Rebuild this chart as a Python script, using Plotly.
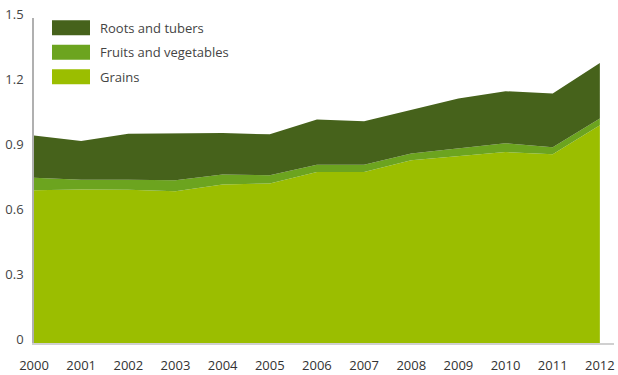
import plotly.graph_objects as go

years = [2000, 2001, 2002, 2003, 2004, 2005, 2006, 2007, 2008, 2009, 2010, 2011, 2012]
grains = [0.705, 0.708, 0.707, 0.700, 0.732, 0.736, 0.789, 0.789, 0.843, 0.862, 0.881, 0.871, 1.005]
fruits_veg = [0.058, 0.046, 0.047, 0.051, 0.046, 0.038, 0.034, 0.034, 0.032, 0.036, 0.041, 0.033, 0.031]
roots_tubers = [0.195, 0.178, 0.212, 0.215, 0.191, 0.189, 0.208, 0.200, 0.199, 0.230, 0.240, 0.247, 0.256]

y_ticks = [0, 0.3, 0.6, 0.9, 1.2, 1.5]
y_labels = ["0", "0.3", "0.6", "0.9", "1.2", "1.5"]

series = [
    ("Grains", grains, "#9bbe00"),
    ("Fruits and vegetables", fruits_veg, "#6ca41f"),
    ("Roots and tubers", roots_tubers, "#46621b"),
]

fig = go.Figure()
for name, vals, col in series:
    fig.add_trace(go.Scatter(
        x=years, y=vals, name=name, mode="lines",
        stackgroup="one", showlegend=False,
        line=dict(width=0, color=col), fillcolor=col,
    ))

# legend drawn by hand: big rectangular swatches, top entry first
for i, (name, vals, col) in enumerate(reversed(series)):
    top = -2.3 - i * 24.5
    fig.add_shape(
        type="rect", xref="paper", yref="paper",
        xsizemode="pixel", ysizemode="pixel", xanchor=0, yanchor=1,
        x0=18, x1=56, y0=top, y1=top - 15,
        fillcolor=col, line=dict(width=0),
    )
    fig.add_annotation(
        text=name, xref="paper", yref="paper", x=0, y=1,
        xanchor="left", yanchor="middle", xshift=64, yshift=top - 7.5,
        showarrow=False, font=dict(size=13, color="#444"),
    )

fig.update_layout(
    width=618, height=375,
    margin=dict(l=34, r=4, t=18, b=32),
    paper_bgcolor="white", plot_bgcolor="white",
    font=dict(family="Open Sans, Noto Sans, sans-serif", size=13, color="#444"),
)
fig.update_xaxes(
    range=[2000, 2012.3], tickvals=years, ticktext=[str(y) for y in years],
    showgrid=False, zeroline=False, showline=True, linecolor="#d0d0d0", linewidth=2,
    ticks="", tickfont=dict(size=13, color="#333"), ticklabelstandoff=9,
    automargin=False, ticklabeloverflow="allow",
)
fig.update_yaxes(
    range=[0, 1.5], tickvals=y_ticks, ticktext=y_labels,
    showgrid=False, zeroline=False, showline=True, linecolor="#b0b0b0", linewidth=1.5,
    ticks="", tickfont=dict(size=13, color="#444"), ticklabelshift=-4, ticklabelstandoff=6,
    automargin=False, ticklabeloverflow="allow",
)

# page body has a default 8px margin; drop it so the figure sits at the window corner
fig.write_html(
    "out.html",
    config={"displayModeBar": False},
    post_script="document.body.style.margin = '0';",
)
